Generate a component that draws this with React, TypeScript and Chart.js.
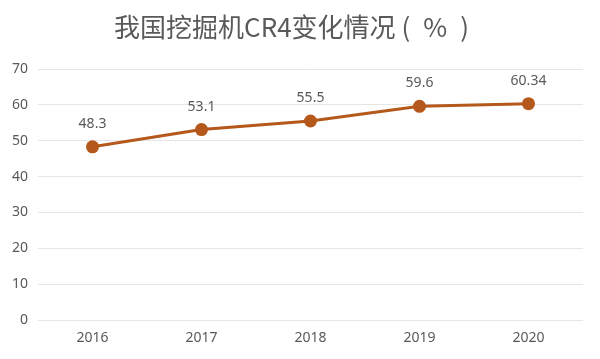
import React, { useEffect, useRef } from "react";
import { Chart, registerables } from "chart.js";

Chart.register(...registerables);

const categories = ["2016", "2017", "2018", "2019", "2020"];
const cr4Values = [48.3, 53.1, 55.5, 59.6, 60.34];
const valueLabels = ["48.3", "53.1", "55.5", "59.6", "60.34"];
const titleText = "我国挖掘机CR4变化情况 (\u2002%\u2002)";

const lineColor = "#B5581C";
const textColor = "#595959";
const fontFamily = "'Noto Sans', 'Noto Sans CJK SC', sans-serif";

const dataLabelPlugin = {
  id: "dataLabels",
  afterDatasetsDraw(chart: any) {
    const ctx = chart.ctx;
    const meta = chart.getDatasetMeta(0);
    ctx.save();
    ctx.font = `14px ${fontFamily}`;
    ctx.fillStyle = textColor;
    ctx.textAlign = "center";
    ctx.textBaseline = "middle";
    meta.data.forEach((pt: any, i: number) => {
      ctx.fillText(valueLabels[i], pt.x, pt.y - 23);
    });
    ctx.restore();
  },
};

export default function App() {
  const ref = useRef<HTMLCanvasElement>(null);
  useEffect(() => {
    if (!ref.current) return;
    const chart = new Chart(ref.current, {
      type: "line",
      data: {
        labels: categories,
        datasets: [
          {
            data: cr4Values,
            borderColor: lineColor,
            backgroundColor: lineColor,
            borderWidth: 3,
            pointRadius: 6.5,
            pointBackgroundColor: lineColor,
            pointBorderColor: lineColor,
            pointBorderWidth: 0,
            tension: 0,
          },
        ],
      },
      options: {
        animation: false,
        responsive: false,
        layout: { padding: { top: 0, right: 17, left: 0, bottom: 0 } },
        plugins: {
          legend: { display: false },
          tooltip: { enabled: false },
          title: {
            display: true,
            text: titleText,
            color: textColor,
            font: { size: 26, family: "'Noto Sans CJK SC', sans-serif", weight: "normal" as any, lineHeight: 1.2 },
            padding: { top: 12, bottom: 25.8 },
          },
        },
        scales: {
          x: {
            offset: true,
            grid: { display: false, drawTicks: false },
            border: { display: false },
            ticks: { color: textColor, font: { size: 14, family: fontFamily }, padding: 10 },
            afterFit: (s: any) => {
              s.height = 39;
            },
          },
          y: {
            min: 0,
            max: 70,
            ticks: { stepSize: 10, color: textColor, font: { size: 14, family: fontFamily }, padding: 10 },
            grid: { color: "#E6E6E6", lineWidth: 1, drawTicks: false },
            border: { display: false },
            afterFit: (s: any) => {
              s.width = 38;
            },
          },
        },
      },
      plugins: [dataLabelPlugin],
    });
    return () => chart.destroy();
  }, []);
  return (
    <div style={{ position: "fixed", left: 0, top: 0, width: 600, height: 359, background: "#fff" }}>
      <canvas ref={ref} width={600} height={359} style={{ width: 600, height: 359 }} />
    </div>
  );
}
